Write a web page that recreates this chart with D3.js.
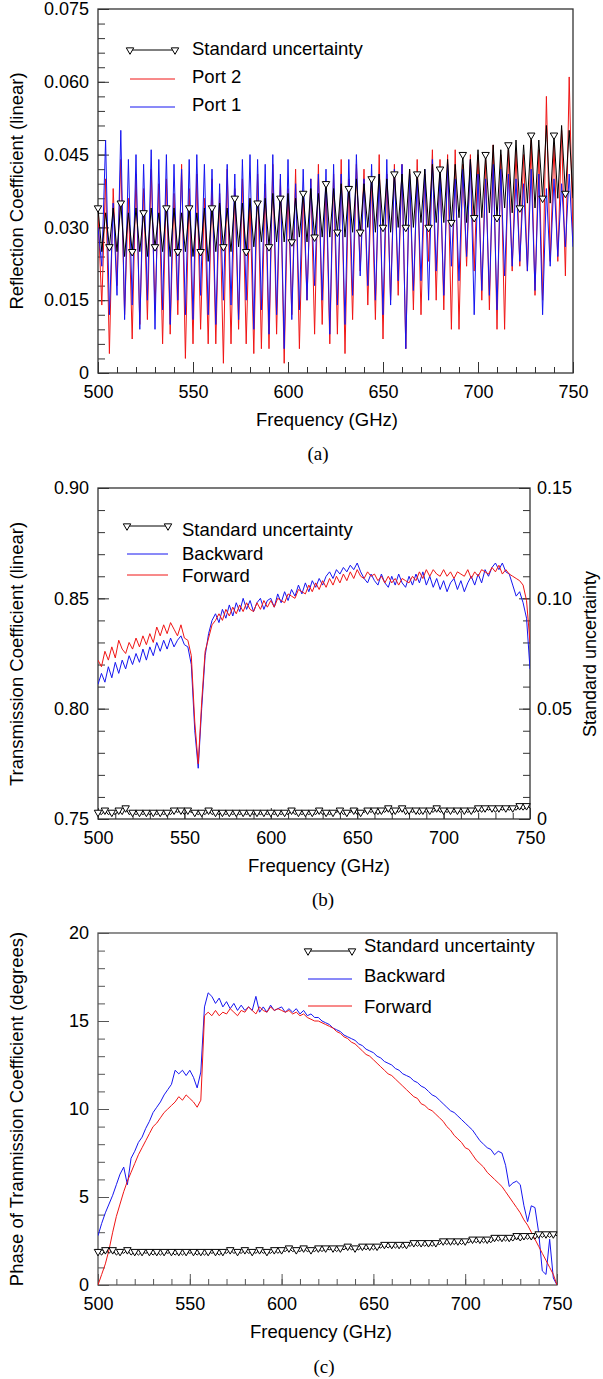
<!DOCTYPE html>
<html>
<head>
<meta charset="utf-8">
<script src="https://cdn.jsdelivr.net/npm/d3@7"></script>
<style>
  body { margin: 0; background: #fff; }
  svg { display: block; }
</style>
</head>
<body>
<div id="chart"></div>
<script>
// frequency grid (GHz), one sample every 2 GHz
var freq = d3.range(500, 751, 2);
var xTicks = [500, 550, 600, 650, 700, 750];
var xTickLabels = ['500', '550', '600', '650', '700', '750'];
var xMinor = d3.range(500, 751, 10);

// (a) reflection coefficient
var aStdUnc = [
  0.034, 0.025, 0.033, 0.026, 0.034, 0.025, 0.035, 0.024, 0.033, 0.025,
  0.034, 0.025, 0.033, 0.024, 0.034, 0.026, 0.033, 0.025, 0.034, 0.024,
  0.034, 0.025, 0.033, 0.025, 0.034, 0.024, 0.033, 0.025, 0.034, 0.023,
  0.034, 0.025, 0.035, 0.026, 0.034, 0.025, 0.036, 0.026, 0.035, 0.025,
  0.036, 0.026, 0.035, 0.027, 0.036, 0.026, 0.037, 0.027, 0.036, 0.027,
  0.037, 0.027, 0.036, 0.028, 0.037, 0.027, 0.038, 0.028, 0.037, 0.028,
  0.039, 0.028, 0.038, 0.029, 0.039, 0.028, 0.038, 0.029, 0.040, 0.029,
  0.039, 0.030, 0.040, 0.029, 0.041, 0.030, 0.040, 0.029, 0.041, 0.030,
  0.041, 0.030, 0.042, 0.030, 0.041, 0.031, 0.042, 0.030, 0.043, 0.031,
  0.042, 0.031, 0.044, 0.031, 0.043, 0.032, 0.045, 0.031, 0.044, 0.032,
  0.046, 0.032, 0.045, 0.033, 0.047, 0.032, 0.046, 0.034, 0.047, 0.033,
  0.048, 0.034, 0.047, 0.035, 0.049, 0.034, 0.048, 0.036, 0.051, 0.035, 0.049, 0.036, 0.051, 0.037, 0.050, 0.036
];
var aPort2 = [
  0.033, 0.014, 0.040, 0.004, 0.038, 0.018, 0.044, 0.012, 0.036, 0.007,
  0.041, 0.010, 0.038, 0.011, 0.042, 0.013, 0.039, 0.006, 0.040, 0.008,
  0.037, 0.012, 0.043, 0.003, 0.038, 0.006, 0.041, 0.009, 0.036, 0.006,
  0.040, 0.006, 0.037, 0.002, 0.042, 0.006, 0.038, 0.009, 0.040, 0.006,
  0.036, 0.004, 0.041, 0.005, 0.039, 0.005, 0.043, 0.008, 0.040, 0.002,
  0.038, 0.012, 0.042, 0.005, 0.037, 0.015, 0.040, 0.008, 0.043, 0.010,
  0.039, 0.006, 0.041, 0.008, 0.044, 0.004, 0.040, 0.011, 0.043, 0.021,
  0.042, 0.014, 0.040, 0.011, 0.045, 0.007, 0.041, 0.015, 0.043, 0.016,
  0.043, 0.005, 0.042, 0.013, 0.044, 0.012, 0.041, 0.023, 0.046, 0.015,
  0.044, 0.013, 0.045, 0.009, 0.046, 0.009, 0.043, 0.022, 0.045, 0.021,
  0.045, 0.015, 0.044, 0.013, 0.047, 0.009, 0.045, 0.009, 0.046, 0.021,
  0.046, 0.022, 0.045, 0.021, 0.048, 0.016, 0.046, 0.015, 0.057, 0.023, 0.047, 0.023, 0.050, 0.020, 0.061, 0.027
];
var aPort1 = [
  0.030, 0.022, 0.048, 0.012, 0.035, 0.016, 0.050, 0.011, 0.044, 0.014,
  0.045, 0.009, 0.043, 0.015, 0.046, 0.009, 0.044, 0.013, 0.045, 0.010,
  0.043, 0.015, 0.042, 0.012, 0.044, 0.011, 0.045, 0.016, 0.043, 0.012,
  0.042, 0.010, 0.039, 0.015, 0.043, 0.014, 0.041, 0.011, 0.044, 0.015,
  0.045, 0.009, 0.044, 0.013, 0.043, 0.008, 0.045, 0.012, 0.041, 0.005,
  0.044, 0.011, 0.039, 0.013, 0.042, 0.015, 0.040, 0.018, 0.041, 0.015,
  0.042, 0.008, 0.043, 0.014, 0.041, 0.010, 0.044, 0.016, 0.045, 0.020,
  0.040, 0.018, 0.043, 0.015, 0.041, 0.012, 0.044, 0.014, 0.042, 0.019,
  0.043, 0.005, 0.041, 0.017, 0.040, 0.019, 0.042, 0.015, 0.044, 0.021,
  0.041, 0.016, 0.043, 0.022, 0.040, 0.019, 0.042, 0.024, 0.044, 0.012,
  0.041, 0.017, 0.040, 0.016, 0.043, 0.013, 0.042, 0.020, 0.041, 0.022,
  0.040, 0.023, 0.039, 0.021, 0.042, 0.017, 0.041, 0.012, 0.038, 0.022, 0.040, 0.024, 0.039, 0.026, 0.041, 0.026
];
var aYTicks = [0, 0.015, 0.030, 0.045, 0.060, 0.075];
var aYTickLabels = ['0', '0.015', '0.030', '0.045', '0.060', '0.075'];
var aLegend = ['Standard uncertainty', 'Port 2', 'Port 1'];

// (b) transmission coefficient magnitude
var bStdUnc = [
  0.003, 0.002, 0.004, 0.002, 0.003, 0.002, 0.004, 0.002, 0.005, 0.002,
  0.003, 0.002, 0.003, 0.002, 0.003, 0.002, 0.003, 0.002, 0.003, 0.002,
  0.003, 0.002, 0.004, 0.003, 0.004, 0.002, 0.004, 0.003, 0.003, 0.002,
  0.003, 0.002, 0.004, 0.002, 0.003, 0.002, 0.003, 0.002, 0.003, 0.002,
  0.003, 0.002, 0.003, 0.002, 0.003, 0.002, 0.003, 0.002, 0.003, 0.002,
  0.003, 0.002, 0.003, 0.002, 0.003, 0.002, 0.004, 0.002, 0.003, 0.002,
  0.003, 0.002, 0.003, 0.002, 0.004, 0.002, 0.003, 0.002, 0.003, 0.003,
  0.004, 0.002, 0.003, 0.003, 0.004, 0.002, 0.003, 0.003, 0.004, 0.003,
  0.004, 0.002, 0.004, 0.003, 0.005, 0.002, 0.004, 0.003, 0.005, 0.002,
  0.004, 0.003, 0.004, 0.002, 0.004, 0.003, 0.004, 0.003, 0.005, 0.003,
  0.004, 0.003, 0.004, 0.003, 0.004, 0.003, 0.004, 0.003, 0.004, 0.003,
  0.005, 0.003, 0.005, 0.004, 0.005, 0.003, 0.005, 0.004, 0.005, 0.004, 0.005, 0.004, 0.006, 0.004, 0.006, 0.005
];
var bBackward = [
  0.811, 0.816, 0.812, 0.819, 0.814, 0.821, 0.816, 0.822, 0.818, 0.824,
  0.820, 0.825, 0.821, 0.827, 0.822, 0.828, 0.824, 0.830, 0.826, 0.831,
  0.827, 0.832, 0.828, 0.831, 0.833, 0.829, 0.828, 0.820, 0.790, 0.773,
  0.800, 0.824, 0.834, 0.840, 0.843, 0.839, 0.845, 0.841, 0.847, 0.842,
  0.848, 0.844, 0.850, 0.845, 0.849, 0.844, 0.848, 0.850, 0.845, 0.849,
  0.850, 0.846, 0.852, 0.848, 0.853, 0.849, 0.854, 0.851, 0.856, 0.852,
  0.857, 0.853, 0.858, 0.855, 0.859, 0.856, 0.860, 0.862, 0.859, 0.863,
  0.861, 0.864, 0.862, 0.865, 0.863, 0.866, 0.862, 0.859, 0.857, 0.861,
  0.858, 0.856, 0.861, 0.857, 0.855, 0.860, 0.856, 0.861, 0.857, 0.855,
  0.860, 0.856, 0.861, 0.857, 0.862, 0.856, 0.860, 0.855, 0.859, 0.854,
  0.858, 0.853, 0.857, 0.859, 0.854, 0.858, 0.853, 0.857, 0.860, 0.856,
  0.861, 0.857, 0.863, 0.860, 0.864, 0.866, 0.863, 0.866, 0.862, 0.861, 0.856, 0.851, 0.853, 0.848, 0.841, 0.818
];
var bForward = [
  0.822, 0.819, 0.826, 0.822, 0.828, 0.823, 0.831, 0.827, 0.825, 0.830,
  0.827, 0.832, 0.828, 0.833, 0.829, 0.834, 0.830, 0.837, 0.833, 0.838,
  0.834, 0.839, 0.836, 0.833, 0.838, 0.832, 0.831, 0.824, 0.794, 0.775,
  0.803, 0.826, 0.832, 0.838, 0.840, 0.843, 0.840, 0.845, 0.842, 0.846,
  0.843, 0.847, 0.844, 0.848, 0.845, 0.844, 0.848, 0.845, 0.849, 0.846,
  0.849, 0.846, 0.850, 0.849, 0.848, 0.852, 0.851, 0.850, 0.854, 0.853,
  0.852, 0.856, 0.853, 0.857, 0.854, 0.858, 0.855, 0.859, 0.856, 0.860,
  0.857, 0.861, 0.858, 0.862, 0.859, 0.863, 0.860, 0.859, 0.862, 0.860,
  0.861, 0.858, 0.860, 0.857, 0.860, 0.857, 0.859, 0.856, 0.859, 0.858,
  0.857, 0.860, 0.858, 0.862, 0.859, 0.863, 0.860, 0.863, 0.861, 0.860,
  0.863, 0.860, 0.862, 0.859, 0.862, 0.861, 0.860, 0.863, 0.859, 0.862,
  0.860, 0.863, 0.862, 0.861, 0.864, 0.862, 0.865, 0.861, 0.863, 0.861, 0.860, 0.859, 0.858, 0.856, 0.849, 0.830
];
var bYTicks = [0.75, 0.80, 0.85, 0.90];
var bYTickLabels = ['0.75', '0.80', '0.85', '0.90'];
var bY2Ticks = [0, 0.05, 0.10, 0.15];
var bY2TickLabels = ['0', '0.05', '0.10', '0.15'];
var bLegend = ['Standard uncertainty', 'Backward', 'Forward'];

// (c) transmission coefficient phase (degrees)
var cStdUnc = [
  1.9, 1.7, 2.0, 1.8, 2.0, 1.7, 1.9, 1.8, 2.0, 1.7,
  1.9, 1.7, 1.9, 1.8, 1.9, 1.7, 1.9, 1.7, 1.9, 1.8,
  1.9, 1.7, 1.9, 1.7, 1.9, 1.8, 1.9, 1.7, 1.9, 1.7,
  1.9, 1.8, 1.9, 1.7, 1.9, 1.8, 2.0, 1.8, 1.9, 1.8,
  2.0, 1.8, 1.9, 1.8, 2.0, 1.8, 1.9, 1.8, 2.0, 1.8,
  2.0, 1.9, 2.1, 1.9, 2.0, 1.9, 2.1, 1.9, 2.0, 1.9,
  2.1, 1.9, 2.1, 2.0, 2.1, 1.9, 2.1, 2.0, 2.2, 2.0,
  2.1, 2.0, 2.2, 2.0, 2.2, 2.0, 2.2, 2.1, 2.3, 2.1,
  2.3, 2.1, 2.3, 2.1, 2.3, 2.2, 2.4, 2.2, 2.4, 2.2,
  2.4, 2.2, 2.4, 2.3, 2.5, 2.3, 2.5, 2.3, 2.5, 2.3,
  2.5, 2.4, 2.6, 2.4, 2.6, 2.4, 2.6, 2.4, 2.7, 2.5,
  2.7, 2.5, 2.7, 2.5, 2.8, 2.5, 2.8, 2.6, 2.8, 2.6, 2.9, 2.7, 2.9, 2.7, 2.9, 2.8
];
var cBackward = [
  2.8, 3.5, 4.1, 4.6, 5.1, 5.7, 6.3, 6.7, 5.7, 7.2,
  7.6, 8.1, 8.4, 8.9, 9.3, 9.8, 10.1, 10.4, 10.8, 11.1,
  11.4, 12.2, 12.0, 12.2, 11.9, 12.2, 11.8, 11.2, 12.1, 15.8,
  16.6, 16.4, 16.0, 16.3, 15.8, 16.1, 15.7, 16.0, 15.6, 15.9,
  15.6, 15.8, 15.6, 16.4, 15.5, 15.8, 15.5, 15.9, 15.6, 15.7,
  15.8, 15.5, 15.7, 15.5, 15.7, 15.4, 15.6, 15.3, 15.4, 15.2,
  15.2, 15.0, 14.9, 14.8, 14.6, 14.5, 14.4, 14.2, 14.1, 14.0,
  13.9, 13.7, 13.6, 13.4, 13.3, 13.2, 13.0, 12.9, 12.7, 12.6,
  12.5, 12.3, 12.2, 12.0, 11.9, 11.8, 11.6, 11.5, 11.3, 11.2,
  11.0, 10.8, 10.7, 10.5, 10.3, 10.1, 9.9, 9.8, 9.6, 9.4,
  9.2, 9.0, 8.8, 8.5, 8.2, 8.0, 7.8, 7.7, 7.4, 7.6,
  7.5, 6.8, 5.6, 5.8, 5.9, 5.7, 4.5, 3.6, 4.5, 4.4, 3.0, 0.8, 0.6, 2.6, 0.4, 0.0
];
var cForward = [
  0.0, 0.6, 1.2, 2.0, 3.0, 3.9, 4.6, 5.3, 5.9, 6.4,
  6.9, 7.4, 7.8, 8.2, 8.6, 9.0, 9.2, 9.5, 9.8, 10.0,
  10.2, 10.4, 10.7, 10.5, 10.8, 10.6, 10.4, 10.1, 10.5, 15.3,
  15.5, 15.3, 15.6, 15.3, 15.5, 15.4, 15.7, 15.5, 15.3, 15.6,
  15.5, 15.8, 15.6, 15.4, 15.8, 15.6, 15.5, 15.8, 15.6, 15.7,
  15.6, 15.5, 15.6, 15.4, 15.5, 15.3, 15.4, 15.2, 15.1, 15.0,
  15.0, 14.9, 14.8, 14.7, 14.6, 14.4, 14.3, 14.1, 14.0, 13.8,
  13.7, 13.5, 13.3, 13.1, 13.0, 12.8, 12.6, 12.4, 12.2, 12.0,
  11.9, 11.7, 11.5, 11.3, 11.1, 10.9, 10.7, 10.6, 10.3, 10.2,
  10.0, 9.9, 9.7, 9.5, 9.3, 9.0, 8.8, 8.5, 8.3, 8.1,
  7.8, 7.7, 7.4, 7.1, 6.9, 6.7, 6.4, 6.2, 6.0, 5.8,
  5.6, 5.3, 5.0, 4.7, 4.4, 4.1, 3.7, 3.4, 3.0, 2.6, 2.2, 1.8, 1.4, 1.0, 0.6, 0.0
];
var cYTicks = [0, 5, 10, 15, 20];
var cYTickLabels = ['0', '5', '10', '15', '20'];
var cLegend = ['Standard uncertainty', 'Backward', 'Forward'];

var FONT = "'Liberation Sans', Arial, sans-serif";
var RED = '#f01515';
var BLUE = '#1515f0';

var svg = d3.select('#chart').append('svg')
    .attr('width', 603)
    .attr('height', 1379);
svg.append('rect').attr('width', 603).attr('height', 1379).attr('fill', '#fff');

var marker = d3.symbol().type(d3.symbolTriangle).size(24);

function drawPanel(p) {
    var x = d3.scaleLinear().domain([500, 750]).range([p.left, p.right]);
    var y = d3.scaleLinear().domain(p.yDomain).range([p.bottom, p.top]);
    var y2 = p.y2Domain ? d3.scaleLinear().domain(p.y2Domain).range([p.bottom, p.top]) : null;
    var g = svg.append('g');

    function addAxis(gen, tr) {
        var a = g.append('g').attr('transform', tr).call(gen);
        a.select('.domain').remove();
        a.selectAll('line').attr('stroke', p.frame);
        a.attr('font-size', 18).attr('font-family', FONT);
        a.selectAll('text').attr('fill', '#000');
        return a;
    }

    // bottom axis: minor then labelled ticks, all drawn inward
    addAxis(d3.axisBottom(x).tickValues(xMinor).tickSize(-6).tickSizeOuter(0).tickFormat(''),
        'translate(0,' + p.bottom + ')');
    addAxis(d3.axisBottom(x).tickValues(xTicks).tickSize(-11).tickSizeOuter(0).tickPadding(12)
        .tickFormat(function (d, i) { return xTickLabels[i]; }), 'translate(0,' + p.bottom + ')');

    // left axis
    addAxis(d3.axisLeft(y).tickValues(p.yMinor).tickSize(-7).tickSizeOuter(0).tickFormat(''),
        'translate(' + p.left + ',0)');
    addAxis(d3.axisLeft(y).tickValues(p.yTicks).tickSize(-11).tickSizeOuter(0).tickPadding(9)
        .tickFormat(function (d, i) { return p.yLabels[i]; }), 'translate(' + p.left + ',0)');

    // optional right axis
    if (y2) {
        addAxis(d3.axisRight(y2).tickValues(p.y2Minor).tickSize(-7).tickSizeOuter(0).tickFormat(''),
            'translate(' + p.right + ',0)');
        addAxis(d3.axisRight(y2).tickValues(p.y2Ticks).tickSize(-11).tickSizeOuter(0).tickPadding(7)
            .tickFormat(function (d, i) { return p.y2Labels[i]; }), 'translate(' + p.right + ',0)');
    }

    // frame
    g.append('rect')
        .attr('x', p.left).attr('y', p.top)
        .attr('width', p.right - p.left).attr('height', p.bottom - p.top)
        .attr('fill', 'none').attr('stroke', p.frame).attr('stroke-width', 1.3);

    var clipId = 'clip-' + p.id;
    g.append('clipPath').attr('id', clipId).append('rect')
        .attr('x', p.left).attr('y', p.top - 2)
        .attr('width', p.right - p.left).attr('height', p.bottom - p.top + 2);

    var plot = g.append('g').attr('clip-path', 'url(#' + clipId + ')');

    p.series.forEach(function (s) {
        var ys = s.axis === 'right' ? y2 : y;
        var line = d3.line()
            .x(function (d, i) { return x(freq[i]); })
            .y(function (d) { return ys(d); });
        plot.append('path')
            .datum(s.values)
            .attr('fill', 'none')
            .attr('stroke', s.color)
            .attr('stroke-width', s.width || 1)
            .attr('stroke-linejoin', 'round')
            .attr('d', line);
        if (s.every) {
            var pts = s.values.map(function (v, i) { return { f: freq[i], v: v, i: i }; })
                .filter(function (d) { return d.i % s.every === 0; });
            g.selectAll(null).data(pts).enter().append('path')
                .attr('d', marker)
                .attr('transform', function (d) {
                    return 'translate(' + x(d.f) + ',' + ys(d.v) + ') rotate(180)';
                })
                .attr('fill', '#fff')
                .attr('stroke', '#000')
                .attr('stroke-width', 1);
        }
    });

    // legend
    var lg = p.legend;
    lg.rows.forEach(function (r, i) {
        g.append('line')
            .attr('x1', lg.x1).attr('x2', lg.x2)
            .attr('y1', r.ly).attr('y2', r.ly)
            .attr('stroke', r.color).attr('stroke-width', 1);
        if (r.marker) {
            [lg.x1, lg.x2].forEach(function (mx) {
                g.append('path').attr('d', marker)
                    .attr('transform', 'translate(' + mx + ',' + r.ly + ') rotate(180)')
                    .attr('fill', '#fff').attr('stroke', '#000');
            });
        }
        g.append('text')
            .attr('x', lg.tx).attr('y', r.ty)
            .attr('font-family', FONT).attr('font-size', 18.5)
            .text(lg.labels[i]);
    });

    // axis titles
    g.append('text')
        .attr('x', p.xTitleX).attr('y', p.bottom + 53)
        .attr('text-anchor', 'middle')
        .attr('font-family', FONT).attr('font-size', 18.5)
        .text('Frequency (GHz)');
    g.append('text')
        .attr('transform', 'translate(23,' + p.yTitleY + ') rotate(-90)')
        .attr('text-anchor', 'middle')
        .attr('font-family', FONT).attr('font-size', 18.5)
        .text(p.yTitle);
    if (p.y2Title) {
        g.append('text')
            .attr('transform', 'translate(596,' + p.yTitleY + ') rotate(-90)')
            .attr('text-anchor', 'middle')
            .attr('font-family', FONT).attr('font-size', 18)
            .text(p.y2Title);
    }

    // caption
    g.append('text')
        .attr('x', p.caption.x).attr('y', p.caption.y)
        .attr('text-anchor', 'middle')
        .attr('font-family', "'Liberation Serif', 'Times New Roman', serif")
        .attr('font-size', 19)
        .text(p.caption.text);
}

drawPanel({
    id: 'a', left: 98, right: 573, top: 9, bottom: 373,
    frame: '#333',
    yDomain: [0, 0.075], yTicks: aYTicks, yLabels: aYTickLabels,
    yMinor: d3.range(0, 0.0751, 0.003),
    yTitle: 'Reflection Coefficient (linear)', yTitleY: 191, xTitleX: 327,
    series: [
        { values: aPort2, color: RED },
        { values: aPort1, color: BLUE },
        { values: aStdUnc, color: '#000', every: 3 }
    ],
    legend: {
        x1: 130, x2: 175, tx: 192, labels: aLegend,
        rows: [
            { ly: 50, ty: 55, color: '#000', marker: true },
            { ly: 79, ty: 83, color: RED },
            { ly: 107, ty: 111, color: BLUE }
        ]
    },
    caption: { text: '(a)', x: 318, y: 460 }
});

drawPanel({
    id: 'b', left: 98, right: 530, top: 488, bottom: 819,
    frame: '#333',
    yDomain: [0.75, 0.90], yTicks: bYTicks, yLabels: bYTickLabels,
    yMinor: d3.range(0.75, 0.9001, 0.01),
    y2Domain: [0, 0.15], y2Ticks: bY2Ticks, y2Labels: bY2TickLabels,
    y2Minor: d3.range(0, 0.1501, 0.01),
    yTitle: 'Transmission Coefficient (linear)', y2Title: 'Standard uncertainty',
    yTitleY: 654, xTitleX: 319,
    series: [
        { values: bBackward, color: BLUE },
        { values: bForward, color: RED },
        { values: bStdUnc, color: '#000', axis: 'right', every: 2 }
    ],
    legend: {
        x1: 127, x2: 168, tx: 182, labels: bLegend,
        rows: [
            { ly: 526, ty: 536, color: '#000', marker: true },
            { ly: 554, ty: 560, color: BLUE },
            { ly: 575, ty: 582, color: RED }
        ]
    },
    caption: { text: '(b)', x: 323, y: 906 }
});

drawPanel({
    id: 'c', left: 98, right: 557, top: 933, bottom: 1285,
    frame: '#555',
    yDomain: [0, 20], yTicks: cYTicks, yLabels: cYTickLabels,
    yMinor: d3.range(0, 20.01, 1),
    yTitle: 'Phase of Tranmission Coefficient (degrees)', yTitleY: 1109, xTitleX: 321,
    series: [
        { values: cBackward, color: BLUE },
        { values: cForward, color: RED },
        { values: cStdUnc, color: '#000', every: 2 }
    ],
    legend: {
        x1: 308, x2: 352, tx: 364, labels: cLegend,
        rows: [
            { ly: 951, ty: 952, color: '#000', marker: true },
            { ly: 979, ty: 982, color: BLUE },
            { ly: 1006, ty: 1013, color: RED }
        ]
    },
    caption: { text: '(c)', x: 324, y: 1373 }
});
</script>
</body>
</html>
